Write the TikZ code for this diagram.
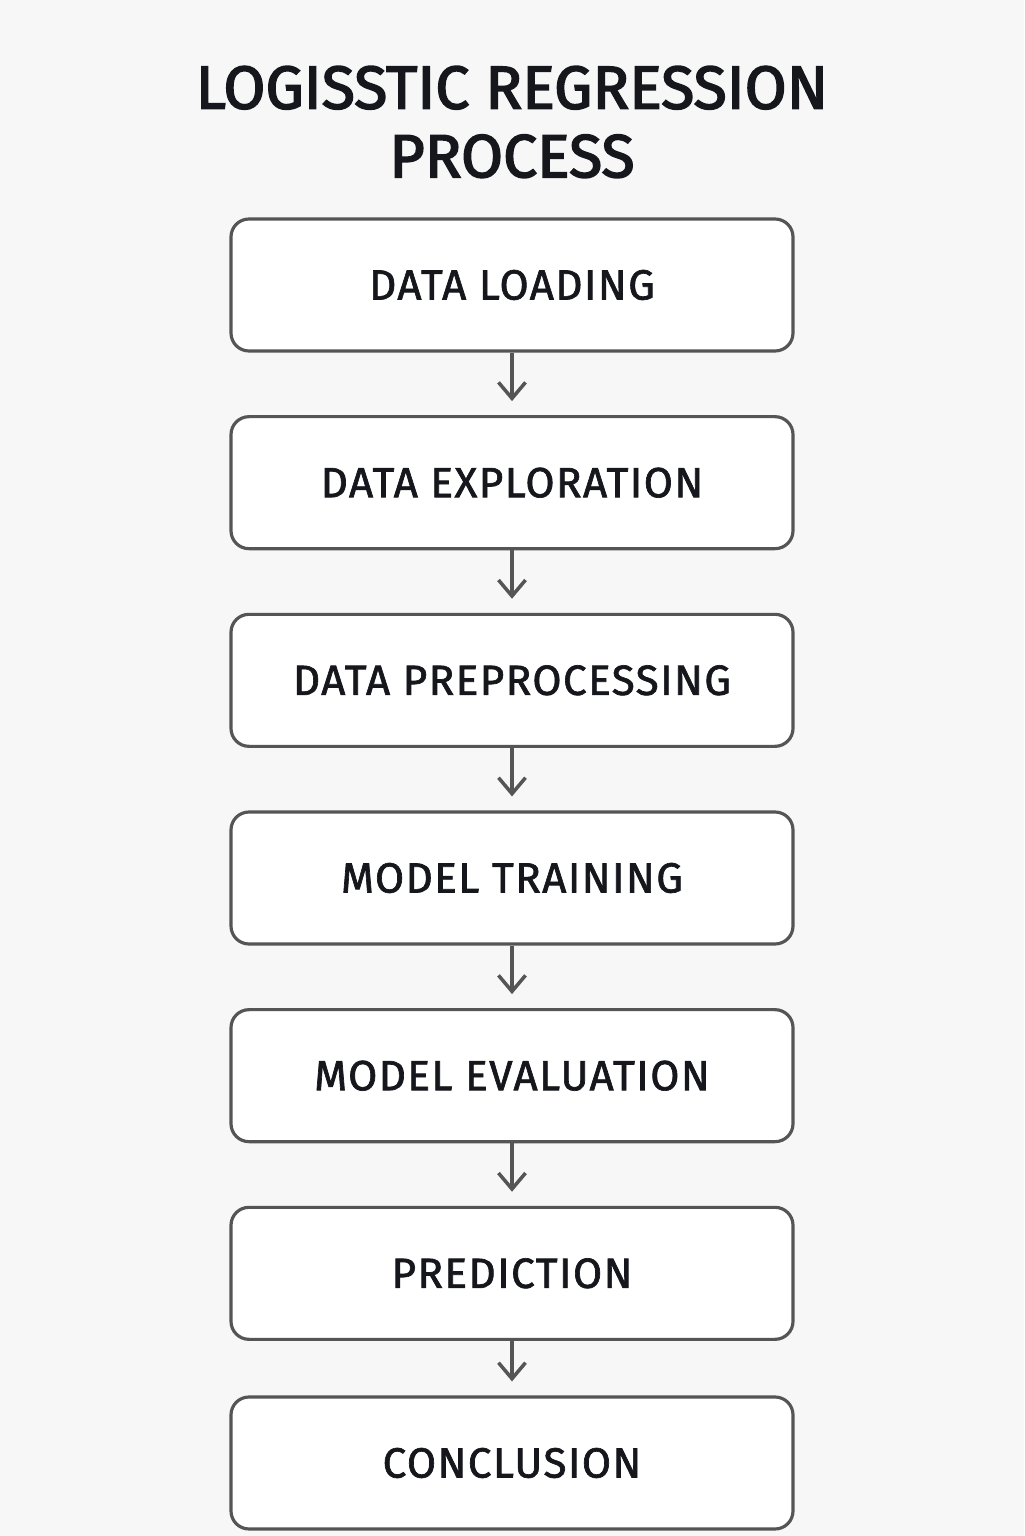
\documentclass[tikz,border=0pt]{standalone}
\usepackage{fontspec}
\setmainfont{Fira Sans}
\usetikzlibrary{positioning,arrows.meta}
\definecolor{bgcol}{HTML}{F7F7F7}
\definecolor{linecol}{HTML}{555555}
\definecolor{txtcol}{HTML}{15171C}
\begin{document}
\begin{tikzpicture}[>={Straight Barb[length=1.6mm,width=2.7mm,line width=1pt]},
  stepbox/.style={draw=linecol,line width=0.9pt,fill=white,rounded corners=0.18cm,
    minimum width=5.62cm,minimum height=1.32cm,text=txtcol,
    font=\fontsize{12}{14}\selectfont\addfontfeature{FakeBold=1.6,LetterSpace=3.5}},
  flow/.style={->,draw=linecol,line width=0.9pt,shorten >=0.14cm}]
  % background and page size
  \fill[bgcol] (0,0) rectangle (10.24,-15.36);
  \useasboundingbox (0,0) rectangle (10.24,-15.36);
  % title
  \node[text=txtcol,font=\fontsize{17.3}{18.5}\selectfont\addfontfeature{FakeBold=2.6},align=center] (title) at (5.12,-1.22)
    {LOGISSTIC REGRESSION\\[1pt]PROCESS};
  % steps
  \node[stepbox] (load) at (5.12,-2.85) {DATA LOADING};
  \node[stepbox,below=0.625cm of load] (explore) {DATA EXPLORATION};
  \node[stepbox,below=0.625cm of explore] (prep) {DATA PREPROCESSING};
  \node[stepbox,below=0.625cm of prep] (train) {MODEL TRAINING};
  \node[stepbox,below=0.625cm of train] (eval) {MODEL EVALUATION};
  \node[stepbox,below=0.625cm of eval] (pred) {PREDICTION};
  \node[stepbox,below=0.545cm of pred] (concl) {CONCLUSION};
  % arrows
  \foreach \a/\b in {load/explore,explore/prep,prep/train,train/eval,eval/pred,pred/concl}
    \draw[flow] (\a) -- (\b);
\end{tikzpicture}
\end{document}
